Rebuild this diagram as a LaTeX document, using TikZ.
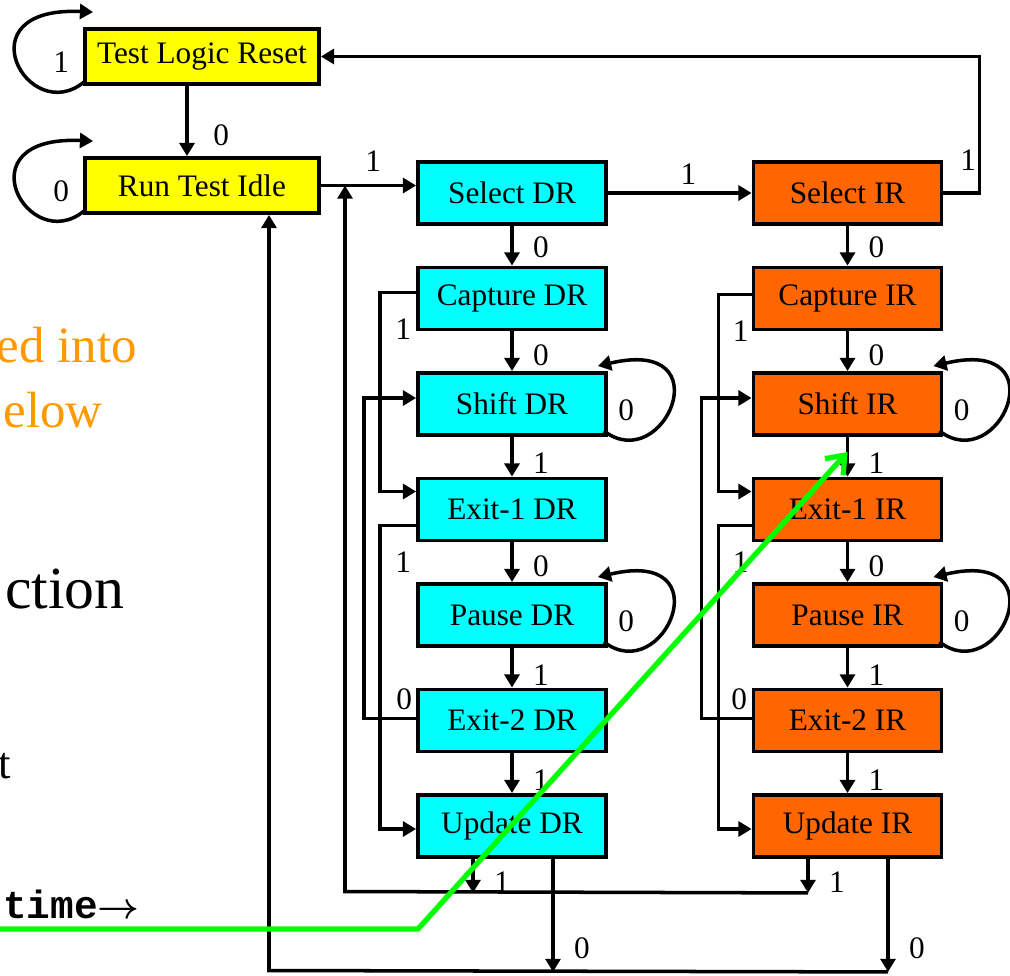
\documentclass[tikz,border=0pt]{standalone}
\usepackage{fontspec}
\setmainfont{Liberation Serif}
\newfontfamily\timefont{Liberation Mono}
\usepackage{xcolor}
\usetikzlibrary{arrows.meta}
\definecolor{resetyellow}{RGB}{255,255,0}
\definecolor{drcyan}{RGB}{0,255,255}
\definecolor{irorange}{RGB}{255,102,0}
\definecolor{noteorange}{RGB}{255,153,0}
\definecolor{timegreen}{RGB}{0,255,0}
\newcommand{\statefont}{\fontsize{17.8}{20}\selectfont}

\begin{document}
\begin{tikzpicture}[x=0.02cm,y=-0.02cm,>={Triangle[length=7.5pt,width=8.5pt]},
  state/.style={draw,line width=2.2pt,minimum width=3.76cm,minimum height=1.24cm,font=\statefont},
  reset/.style={state,fill=resetyellow,minimum width=4.68cm,minimum height=1.1cm},
  dr/.style={state,fill=drcyan},ir/.style={state,fill=irorange},
  edge/.style={->,line width=2pt},lab/.style={font=\statefont,inner sep=1pt},
  note/.style={anchor=base east,inner sep=0pt}]
  \useasboundingbox (0,0) rectangle (1010,975);
  \clip (0,0) rectangle (1010,975);
  % slide text behind the diagram
  \node[note,text=noteorange,font=\fontsize{29}{34}\selectfont] (noteinto) at (137,362) {ed into};
  \node[note,text=noteorange,font=\fontsize{29}{34}\selectfont] (notebelow) at (103,427) {elow};
  \node[note,font=\fontsize{34}{40}\selectfont] (noteaction) at (125,608) {ction};
  \node[note,font=\fontsize{25.5}{30}\selectfont] (notet) at (11,778) {t};
  \node[note,font=\timefont\bfseries\fontsize{22.4}{27}\selectfont\boldmath] (notetime) at (140,918) {time$\rightarrow$};

  \node[reset] (tlr) at (202,56.5) {Test Logic Reset};
  \node[reset] (rti) at (202,185.5) {Run Test Idle};
  \node[dr] (selectdr) at (512,193) {Select DR};
  \node[dr] (capturedr) at (512,298.5) {Capture DR};
  \node[dr] (shiftdr) at (512,404) {Shift DR};
  \node[dr] (exitonedr) at (512,509.5) {Exit-1 DR};
  \node[dr] (pausedr) at (512,615) {Pause DR};
  \node[dr] (exittwodr) at (512,720.5) {Exit-2 DR};
  \node[dr] (updatedr) at (512,826) {Update DR};
  \node[ir] (selectir) at (847.5,193) {Select IR};
  \node[ir] (captureir) at (847.5,298.5) {Capture IR};
  \node[ir] (shiftir) at (847.5,404) {Shift IR};
  \node[ir] (exitoneir) at (847.5,509.5) {Exit-1 IR};
  \node[ir] (pauseir) at (847.5,615) {Pause IR};
  \node[ir] (exittwoir) at (847.5,720.5) {Exit-2 IR};
  \node[ir] (updateir) at (847.5,826) {Update IR};

  % reset and idle
  \draw[edge] ([shift={(0,6)}]tlr.west) node[lab,left=6pt]{1}
    ([shift={(1,-4)}]tlr.south west) .. controls +(-56,46) and +(-132,-6) .. ([shift={(10,-15)}]tlr.north west);
  \draw[edge] ([shift={(0,6)}]rti.west) node[lab,left=6pt]{0}
    ([shift={(1,-4)}]rti.south west) .. controls +(-56,46) and +(-132,-6) .. ([shift={(10,-15)}]rti.north west);
  \draw[edge] ([shift={(-15,0)}]tlr.south) -- node[lab,right=13pt,pos=.7]{0} ([shift={(-15,0)}]rti.north);
  \draw[edge] (rti.east) -- node[lab,above=6pt,pos=.55]{1} (rti.east -| selectdr.west);
  \draw[edge] (selectdr) -- node[lab,above=3pt,pos=.56]{1} (selectir);
  \draw[edge] (selectir.east) -- ++(36,0) |- node[lab,left,pos=.12]{1} (tlr.east);

  % data register column
  \draw[edge] (selectdr) -- node[lab,right=10pt,pos=.55]{0} (capturedr);
  \draw[edge] (capturedr) -- node[lab,right=10pt,pos=.6]{0} (shiftdr);
  \draw[edge] (shiftdr) -- node[lab,right=10pt,pos=.65]{1} (exitonedr);
  \draw[edge] (exitonedr) -- node[lab,right=10pt,pos=.6]{0} (pausedr);
  \draw[edge] (pausedr) -- node[lab,right=10pt,pos=.68]{1} (exittwodr);
  \draw[edge] (exittwodr) -- node[lab,right=10pt,pos=.68]{1} (updatedr);
  \draw[edge] ([shift={(0,6)}]shiftdr.east) node[lab,right=4pt]{0}
    ([shift={(-4,-6)}]shiftdr.south east) .. controls +(60,46) and +(126,-30) .. ([shift={(-10,-5)}]shiftdr.north east);
  \draw[edge] ([shift={(0,6)}]pausedr.east) node[lab,right=4pt]{0}
    ([shift={(-4,-6)}]pausedr.south east) .. controls +(60,46) and +(126,-30) .. ([shift={(-10,-5)}]pausedr.north east);
  \draw[edge] ([shift={(0,-6)}]capturedr.west) -- node[lab,below=13pt,pos=.36]{1} ++(-36,0) |- ([shift={(0,-18)}]exitonedr.west);
  \draw[edge] ([shift={(0,16)}]exitonedr.west) -- node[lab,below=13pt,pos=.36]{1} ++(-36,0) |- ([shift={(0,3)}]updatedr.west);
  \draw[edge] ([shift={(0,-2)}]exittwodr.west) -- node[lab,above=3pt,pos=.23]{0} ++(-52,0) |- ([shift={(0,-6)}]shiftdr.west);
  \draw[edge] ([shift={(-39,0)}]updatedr.south) -- node[lab,right=10pt,pos=.68]{1} ++(0,34);
  \draw[edge] ([shift={(41,0)}]updatedr.south) -- node[lab,right=10pt,pos=.79]{0} ++(0,113);

  % instruction register column
  \draw[edge] (selectir) -- node[lab,right=10pt,pos=.55]{0} (captureir);
  \draw[edge] (captureir) -- node[lab,right=10pt,pos=.6]{0} (shiftir);
  \draw[edge] (shiftir) -- node[lab,right=10pt,pos=.65]{1} (exitoneir);
  \draw[edge] (exitoneir) -- node[lab,right=10pt,pos=.6]{0} (pauseir);
  \draw[edge] (pauseir) -- node[lab,right=10pt,pos=.68]{1} (exittwoir);
  \draw[edge] (exittwoir) -- node[lab,right=10pt,pos=.68]{1} (updateir);
  \draw[edge] ([shift={(0,6)}]shiftir.east) node[lab,right=4pt]{0}
    ([shift={(-4,-6)}]shiftir.south east) .. controls +(60,46) and +(126,-30) .. ([shift={(-10,-5)}]shiftir.north east);
  \draw[edge] ([shift={(0,6)}]pauseir.east) node[lab,right=4pt]{0}
    ([shift={(-4,-6)}]pauseir.south east) .. controls +(60,46) and +(126,-30) .. ([shift={(-10,-5)}]pauseir.north east);
  \draw[edge] ([shift={(0,-4)}]captureir.west) -- node[lab,below=13pt,pos=.33]{1} ++(-33,0) |- ([shift={(0,-18)}]exitoneir.west);
  \draw[edge] ([shift={(0,16)}]exitoneir.west) -- node[lab,below=13pt,pos=.33]{1} ++(-33,0) |- ([shift={(0,3)}]updateir.west);
  \draw[edge] ([shift={(0,-2)}]exittwoir.west) -- node[lab,above=3pt,pos=.25]{0} ++(-50,0) |- ([shift={(0,-6)}]shiftir.west);
  \draw[edge] ([shift={(-39.5,0)}]updateir.south) -- node[lab,right=10pt,pos=.68]{1} ++(0,34);
  \draw[edge] ([shift={(40.5,0)}]updateir.south) -- node[lab,right=10pt,pos=.79]{0} ++(0,113);

  % return paths
  \coordinate (backone) at (345,891.5);
  \coordinate (backzero) at (269,970.5);
  \draw[edge] ([shift={(-39.5,34)}]updateir.south) -- (backone) -- (backone |- rti.east);
  \draw[edge] ([shift={(40.5,113)}]updateir.south) -- (backzero) -- (backzero |- rti.south);

  % time line
  \coordinate (timestart) at (0,929);
  \coordinate (timebend) at (418,929);
  \draw[timegreen,line width=3pt,-{Straight Barb[length=9pt,width=14pt]}] (timestart) -- (timebend) -- ([shift={(0,15)}]shiftir.south);
\end{tikzpicture}
\end{document}
